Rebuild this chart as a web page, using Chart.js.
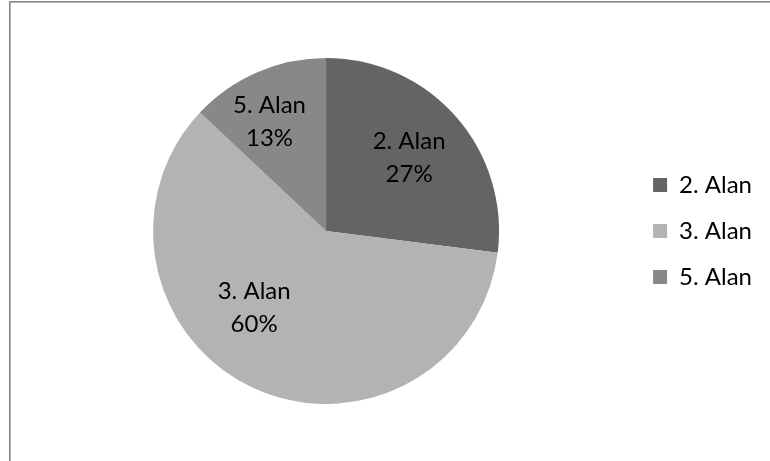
<!DOCTYPE html>
<html>
<head>
<meta charset="utf-8">
<script src="https://cdn.jsdelivr.net/npm/chart.js@4/dist/chart.umd.min.js"></script>
<style>
  html, body { margin: 0; padding: 0; background: #fff; overflow: hidden; }
  .wrap { position: relative; width: 770px; height: 461px; }
  .frame {
    position: absolute; left: 9px; top: 1px; width: 1000px; height: 1000px;
    border-left: 1px solid #858585; border-top: 1px solid #858585;
    box-shadow: inset 1px 1px 0 #b4b4b4; pointer-events: none;
  }
  canvas { position: absolute; left: 0; top: 0; }
</style>
</head>
<body>
<div class="wrap">
  <canvas id="pie"></canvas>
  <div class="frame"></div>
</div>
<script>
const areas = ['2. Alan', '3. Alan', '5. Alan']
const shares = [27, 60, 13]
const sliceColors = ['#646464', '#b3b3b3', '#888888']

// label placement per slice: angle nudge (deg) and distance as a fraction of the radius
const labelSpots = [
  { turn: 0, dist: 0.64 },
  { turn: 18, dist: 0.607 },
  { turn: -4, dist: 0.71 },
]

const FONT = 'Lato, "Open Sans", sans-serif'

// two-line "name / percent" label inside each slice
const sliceLabels = {
  id: 'sliceLabels',
  afterDatasetsDraw(chart) {
    const { ctx } = chart
    const meta = chart.getDatasetMeta(0)
    ctx.save()
    ctx.fillStyle = '#000'
    ctx.font = `24px ${FONT}`
    ctx.textAlign = 'center'
    ctx.textBaseline = 'alphabetic'
    meta.data.forEach((arc, i) => {
      const { x, y, startAngle, endAngle, outerRadius } = arc.getProps(
        ['x', 'y', 'startAngle', 'endAngle', 'outerRadius'], true)
      const spot = labelSpots[i]
      const mid = (startAngle + endAngle) / 2 + spot.turn * Math.PI / 180
      const cx = x + Math.cos(mid) * outerRadius * spot.dist
      const cy = y + Math.sin(mid) * outerRadius * spot.dist
      ctx.fillText(areas[i], cx, cy - 9)
      ctx.fillText(`${shares[i]}%`, cx, cy + 24)
    })
    ctx.restore()
  },
}

new Chart(document.getElementById('pie'), {
  type: 'pie',
  data: {
    labels: areas,
    datasets: [{
      data: shares,
      backgroundColor: sliceColors,
      borderWidth: 0,
    }],
  },
  options: {
    responsive: true,
    maintainAspectRatio: false,
    animation: false,
    layout: { padding: { top: 58, bottom: 57, left: 21, right: 8 } },
    plugins: {
      legend: {
        position: 'right',
        labels: {
          boxWidth: 14,
          boxHeight: 14,
          padding: 22,
          color: '#000',
          font: { family: FONT, size: 24 },
        },
      },
      tooltip: { enabled: false },
    },
  },
  plugins: [sliceLabels],
})
</script>
</body>
</html>
